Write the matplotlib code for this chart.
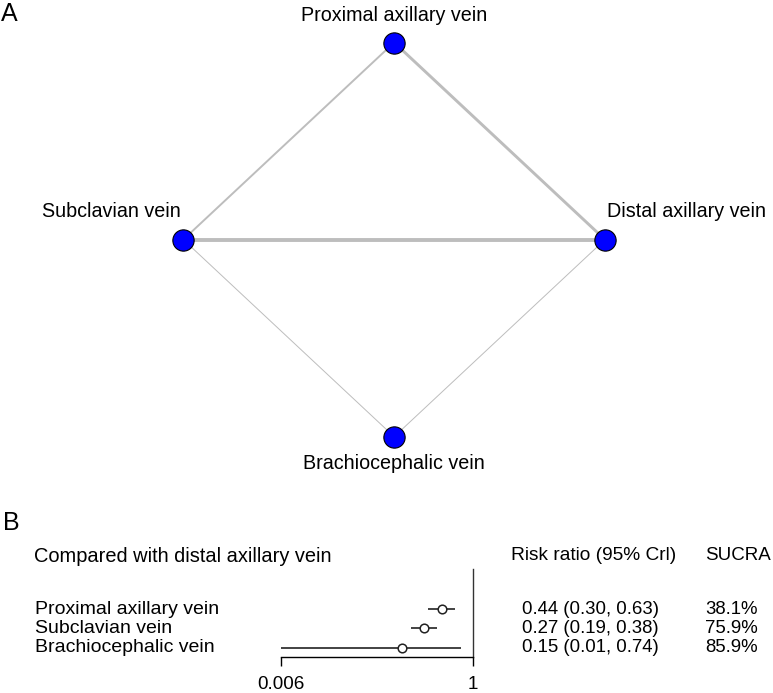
import numpy as np
import matplotlib
matplotlib.use("Agg")
import matplotlib.pyplot as plt
import matplotlib.transforms as mtransforms

plt.rcParams['font.family'] = ['Liberation Sans', 'DejaVu Sans']

# ---------------- data ----------------
# Panel A: network
nodes = ["Proximal axillary vein", "Subclavian vein", "Distal axillary vein", "Brachiocephalic vein"]
node_x = [0, -1, 1, 0]
node_y = [1, 0, 0, -1]
edge_from = [0, 0, 1, 1, 3]
edge_to = [1, 2, 2, 3, 2]
edge_studies = [2, 3, 4, 1, 1]

# Panel B: forest plot
treatments = ["Proximal axillary vein", "Subclavian vein", "Brachiocephalic vein"]
rr = [0.44, 0.27, 0.15]
ci_low = [0.30, 0.19, 0.006]
ci_high = [0.63, 0.38, 0.74]
sucra = [38.1, 75.9, 85.9]
x_ticks = [0.006, 1]
x_tick_labels = ["0.006", "1"]

W, H = 773, 693
fig = plt.figure(figsize=(W / 100, H / 100), dpi=100)

def fx(px):
    return px / W

def fy(py):
    return 1 - py / H

# ---------------- Panel A ----------------
ax1 = fig.add_axes([0, 0, 1, 1])
ax1.set_axis_off()
cx, sx = 394.15, 210.85
cy, sy = 239.6, 197.1
ax1.set_xlim((0 - cx) / sx, (W - cx) / sx)
ax1.set_ylim((cy - H) / sy, cy / sy)

for a, b, n in zip(edge_from, edge_to, edge_studies):
    ax1.plot([node_x[a], node_x[b]], [node_y[a], node_y[b]], color="#bdbdbd",
             lw=0.7 * n, solid_capstyle="butt", zorder=1)
ax1.scatter(node_x, node_y, s=235, color="#0000ff", edgecolor="black",
            linewidth=0.8, zorder=3)

lab_fs = 14.2
off_y = 27 / sy
ax1.text(node_x[0], node_y[0] + off_y, nodes[0], ha="center", va="center", fontsize=lab_fs)
ax1.text(node_x[1] - 3 / sx, node_y[1] + 28 / sy, nodes[1], ha="right", va="center", fontsize=lab_fs)
ax1.text(node_x[2] + 2 / sx, node_y[2] + 28 / sy, nodes[2], ha="left", va="center", fontsize=lab_fs)
ax1.text(node_x[3], node_y[3] - off_y, nodes[3], ha="center", va="center", fontsize=lab_fs)

fig.text(fx(1), fy(14), "A", ha="left", va="center", fontsize=18)
fig.text(fx(3), fy(523), "B", ha="left", va="center", fontsize=18)

# ---------------- Panel B ----------------
x0, x1 = 281.3, 472.7
ytop, ybot = 569, 657.3
row0, dy = 609, 19.3
ax2 = fig.add_axes([fx(x0), fy(ybot), (x1 - x0) / W, (ybot - ytop) / H])
ax2.set_xscale("log")
ax2.set_xlim(x_ticks[0], x_ticks[-1])
ax2.set_ylim((ybot - row0) / dy, (ytop - row0) / dy)
ax2.patch.set_visible(False)
for s in ["top", "left"]:
    ax2.spines[s].set_visible(False)
ax2.spines["bottom"].set_linewidth(1.0)
ax2.spines["right"].set_linewidth(1.0)
ax2.spines["right"].set_color("#333333")
ax2.set_yticks([])
ax2.set_xticks(x_ticks)
ax2.set_xticklabels(x_tick_labels, fontsize=13.6)
ax2.xaxis.set_minor_locator(matplotlib.ticker.NullLocator())
ax2.tick_params(axis="x", length=6.8, width=1.0, pad=7, direction="out")

rows = np.arange(len(treatments))
ax2.hlines(rows, ci_low, ci_high, color="#222222", lw=1.2, zorder=2)
ax2.plot(rr, rows, "o", ms=6.2, mfc="white", mec="#222222", mew=1.1, zorder=3,
         clip_on=False)

tr = mtransforms.blended_transform_factory(fig.transFigure, ax2.transData)
fs = 13.4
fs_lab = 14.0
for i, (t, r, lo, hi, sc) in enumerate(zip(treatments, rr, ci_low, ci_high, sucra)):
    ax2.text(fx(35), i, t, transform=tr, ha="left", va="center", fontsize=fs_lab, clip_on=False)
    ax2.text(fx(522), i, f"{r:.2f} ({lo:.2f}, {hi:.2f})", transform=tr, ha="left",
             va="center", fontsize=fs, clip_on=False)
    ax2.text(fx(705), i, f"{sc:.1f}%", transform=tr, ha="left", va="center",
             fontsize=fs, clip_on=False)

fig.text(fx(34), fy(556), "Compared with distal axillary vein", ha="left", va="center", fontsize=14.4)
fig.text(fx(511), fy(556), "Risk ratio (95% Crl)", ha="left", va="center", fontsize=13.8)
fig.text(fx(705), fy(556), "SUCRA", ha="left", va="center", fontsize=13.5)

fig.savefig("out.png", dpi=100)
